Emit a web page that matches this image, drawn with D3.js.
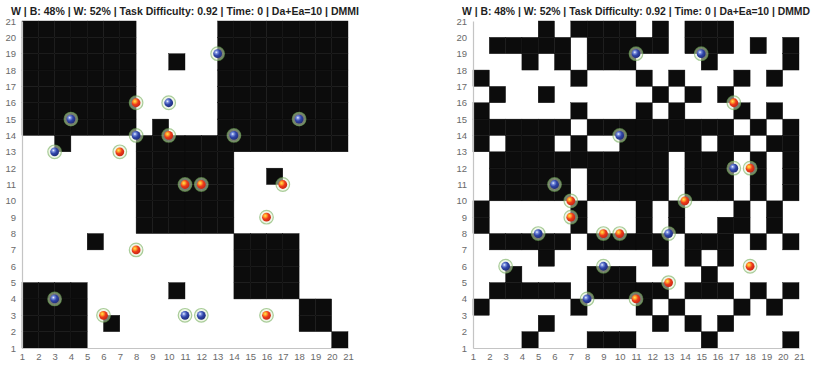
<!DOCTYPE html>
<html>
<head>
<meta charset="utf-8">
<script src="https://cdn.jsdelivr.net/npm/d3@7/dist/d3.min.js"></script>
<style>
  body { margin: 0; background: #fff; }
  svg { display: block; font-family: "Liberation Sans", Arial, sans-serif; }
</style>
</head>
<body>
<div class="grid-chart"></div>
<script>
const ticks = [1, 2, 3, 4, 5, 6, 7, 8, 9, 10, 11, 12, 13, 14, 15, 16, 17, 18, 19, 20, 21];

const leftTitle = "W | B: 48% | W: 52% | Task Difficulty: 0.92 | Time: 0 | Da+Ea=10 | DMMI";
const rightTitle = "W | B: 48% | W: 52% | Task Difficulty: 0.92 | Time: 0 | Da+Ea=10 | DMMD";

// one string per row, from y = 20 (top) down to y = 1; char i is cell x = i + 1
const leftCells = [
  "11111110000011111111",
  "11111110000011111111",
  "11111110010011111111",
  "11111110000011111111",
  "11111110000011111111",
  "11111110000011111111",
  "11111110100011111111",
  "00100001111111111111",
  "00000001111110000000",
  "00000001111110010000",
  "00000001111110000000",
  "00000001111110000000",
  "00000001111110000000",
  "00001000000001111000",
  "00000000000001111000",
  "00000000000001111000",
  "11110000010001111000",
  "11110000000000000110",
  "11110100000000000110",
  "11110000000000000001",
];

const rightCells = [
  "00001011110101110000",
  "01111101111101110101",
  "00010101110000100001",
  "10000010001010001010",
  "01001000000101010000",
  "10000010001010001010",
  "11111101111111110101",
  "10111010011111011011",
  "01111111111101110101",
  "01111101111101110101",
  "01111101111101110101",
  "10000010001010001010",
  "10000010001010011010",
  "01111101111101110101",
  "00001000000101010000",
  "00100001110000100000",
  "01111101111101110101",
  "10000010001010001010",
  "00001000000101010000",
  "00010001110000100001",
];

// agents sit on grid points [x, y]
const leftRed = [[8, 16], [10, 14], [7, 13], [11, 11], [12, 11], [17, 11], [16, 9], [8, 7], [6, 3], [16, 3]];
const leftBlue = [[13, 19], [10, 16], [4, 15], [8, 14], [14, 14], [18, 15], [3, 13], [3, 4], [11, 3], [12, 3]];
const rightRed = [[17, 16], [7, 10], [14, 10], [7, 9], [9, 8], [10, 8], [18, 12], [18, 6], [13, 5], [11, 4]];
const rightBlue = [[11, 19], [15, 19], [10, 14], [17, 12], [6, 11], [5, 8], [13, 8], [3, 6], [9, 6], [8, 4]];

const width = 817;
const height = 366;
const plotTop = 21;
const plotBottom = 348;
const side = 326;

const svg = d3.select(".grid-chart").append("svg")
  .attr("width", width)
  .attr("height", height);

const defs = svg.append("defs");

function ballGradient(id, stops) {
  const g = defs.append("radialGradient")
    .attr("id", id)
    .attr("cx", "36%").attr("cy", "34%").attr("r", "72%");
  stops.forEach(s => g.append("stop").attr("offset", s[0]).attr("stop-color", s[1]));
}

ballGradient("redBall", [["0%", "#ffe452"], ["28%", "#ff9426"], ["52%", "#ec3b1d"], ["100%", "#c62212"]]);
ballGradient("blueBall", [["0%", "#f2f5ff"], ["22%", "#7a90de"], ["52%", "#3045a8"], ["100%", "#1d2a78"]]);

function drawPanel(left, title, cells, red, blue) {
  const x = d3.scaleLinear().domain([1, 21]).range([left, left + side]);
  const y = d3.scaleLinear().domain([1, 21]).range([plotBottom, plotTop]);
  const g = svg.append("g");

  const flat = [];
  cells.forEach((row, r) => {
    row.split("").forEach((c, i) => {
      if (c === "1") flat.push({ cx: i + 1, cy: 20 - r });
    });
  });

  g.selectAll(".cell")
    .data(flat)
    .enter()
    .append("rect")
    .attr("class", "cell")
    .attr("x", d => x(d.cx))
    .attr("y", d => y(d.cy + 1))
    .attr("width", d => x(d.cx + 1) - x(d.cx))
    .attr("height", d => y(d.cy) - y(d.cy + 1))
    .attr("fill", "#0c0c0c")
    .attr("stroke", "#0c0c0c")
    .attr("stroke-width", 0.4);

  const yAxis = g.append("g")
    .attr("transform", `translate(${left},0)`)
    .call(d3.axisLeft(y).tickValues(ticks).tickFormat(d3.format("d")).tickSize(0).tickPadding(6));

  const xAxis = g.append("g")
    .attr("transform", `translate(0,${plotBottom})`)
    .call(d3.axisBottom(x).tickValues(ticks).tickFormat(d3.format("d")).tickSize(0).tickPadding(5));

  [xAxis, yAxis].forEach(a => {
    a.select(".domain").attr("stroke", "#c4c4c4").attr("stroke-width", 1.2);
    a.selectAll("text")
      .attr("fill", "#6a6a6a")
      .style("font-size", "9.5px")
      .style("font-family", "\"Liberation Sans\", Arial, sans-serif");
  });

  const agents = red.map(p => ({ p, fill: "url(#redBall)" }))
    .concat(blue.map(p => ({ p, fill: "url(#blueBall)" })));

  g.selectAll(".ring")
    .data(agents)
    .enter()
    .append("circle")
    .attr("class", "ring")
    .attr("cx", d => x(d.p[0]))
    .attr("cy", d => y(d.p[1]))
    .attr("r", 6.8)
    .attr("fill", "#e2efd2")
    .attr("fill-opacity", 0.5)
    .attr("stroke", "#74ad5c")
    .attr("stroke-opacity", 0.6)
    .attr("stroke-width", 1.2);

  g.selectAll(".dot")
    .data(agents)
    .enter()
    .append("circle")
    .attr("class", "dot")
    .attr("cx", d => x(d.p[0]))
    .attr("cy", d => y(d.p[1]))
    .attr("r", 4.4)
    .attr("fill", d => d.fill);

  // condensed face keeps the natural width close to the reference
  g.append("text")
    .attr("x", left + side / 2)
    .attr("y", 15)
    .attr("text-anchor", "middle")
    .attr("textLength", 348)
    .attr("lengthAdjust", "spacingAndGlyphs")
    .style("font-family", "\"Liberation Sans Narrow\", \"Liberation Sans\", Arial, sans-serif")
    .style("font-size", "11px")
    .style("font-weight", "bold")
    .attr("fill", "#1e1e1e")
    .text(title);
}

drawPanel(22, leftTitle, leftCells, leftRed, leftBlue);
drawPanel(473, rightTitle, rightCells, rightRed, rightBlue);
</script>
</body>
</html>
